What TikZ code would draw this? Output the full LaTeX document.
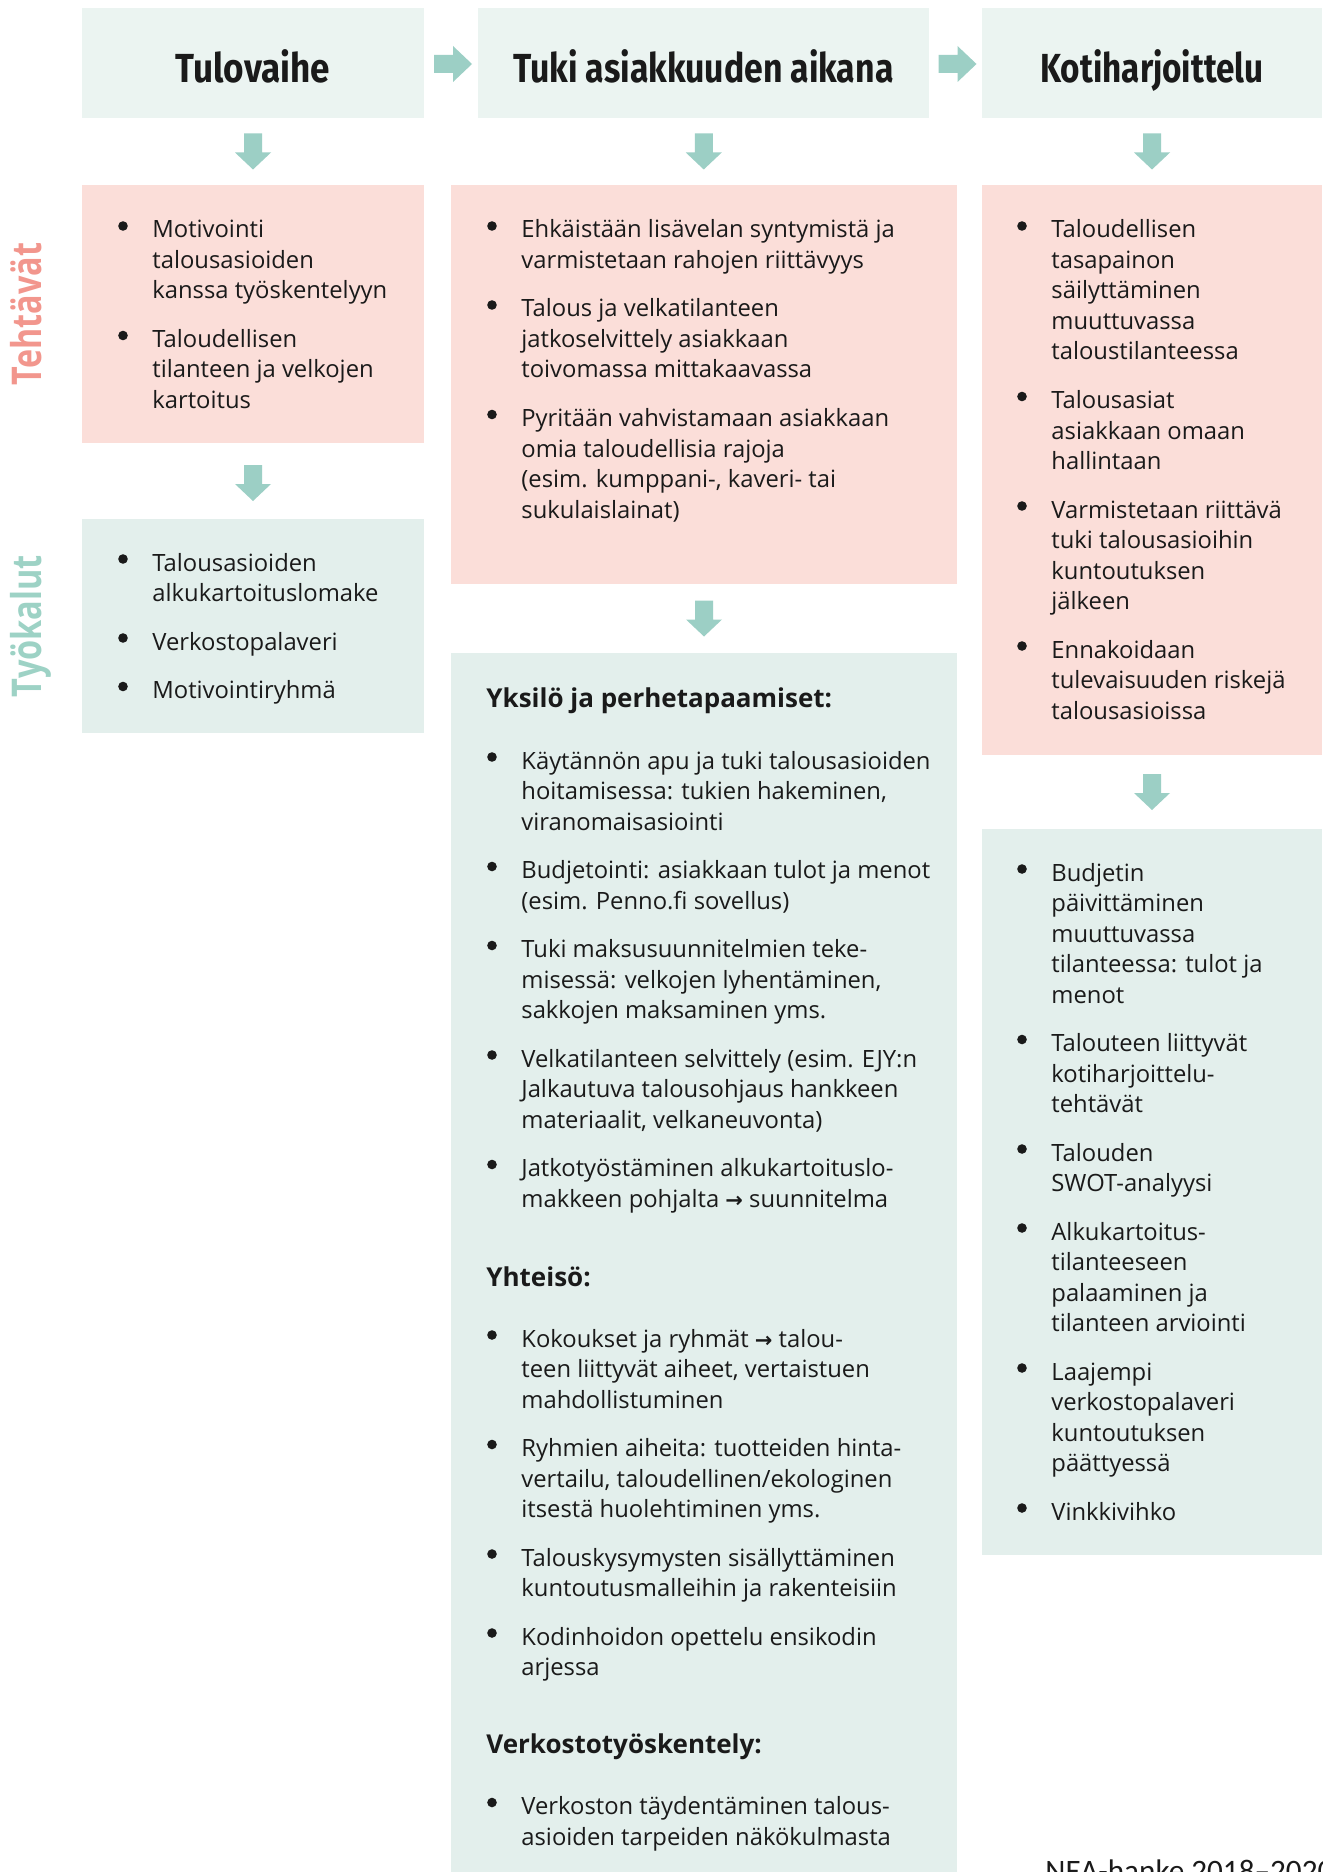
\documentclass[tikz,border=0pt]{standalone}
\usepackage{fontspec}
\usepackage{graphicx}
\setmainfont{Open Sans}
\newfontfamily\headfont{Fira Sans}
\newfontfamily\notefont{Carlito}
\newfontfamily\arrowfont{DejaVu Sans}
\usetikzlibrary{calc}
\definecolor{hdrgreen}{RGB}{235,244,241}
\definecolor{boxgreen}{RGB}{227,239,236}
\definecolor{boxpink}{RGB}{251,222,217}
\definecolor{arrowc}{RGB}{156,207,197}
\definecolor{labpink}{RGB}{242,150,141}
\definecolor{labgreen}{RGB}{157,210,197}
\definecolor{txtcol}{RGB}{26,26,26}
\newcommand\itemfont{\fontsize{11.9pt}{15.25pt}\selectfont}
\newcommand\rar{{\arrowfont\bfseries\fontsize{10.5pt}{15.25pt}\selectfont →}}
\tikzset{
  boxbase/.style={inner sep=0pt, outer sep=0pt, anchor=north west},
  hdrbox/.style={boxbase, fill=hdrgreen},
  pinkbox/.style={boxbase, fill=boxpink},
  toolbox/.style={boxbase, fill=boxgreen},
  hdrtext/.style={anchor=base, inner sep=0pt, text=txtcol, font=\headfont\bfseries\fontsize{20.3pt}{24pt}\selectfont},
  itemtxt/.style={anchor=base west, inner sep=0pt, text=txtcol},
  subhead/.style={anchor=base west, inner sep=0pt, text=txtcol, font=\bfseries\fontsize{13pt}{16pt}\selectfont},
  sidelabel/.style={anchor=base, rotate=90, inner sep=0pt, font=\bfseries\fontsize{20.5pt}{24pt}\selectfont},
}
% item: name, bullet x, baseline y, lines
\newcommand\itm[4]{%
  \node[itemtxt] (#1) at (#2+29,#3) {\parbox[t]{330pt}{\itemfont #4}};
  \fill[txtcol] (#2,#3-12) circle[radius=2.4pt];}
\newcommand\downarr[1]{\fill[arrowc] (#1) ++(-9,-18) -- ++(18,0) -- ++(0,19) -- ++(9,0) -- ++(-18,17) -- ++(-18,-17) -- ++(9,0) -- cycle;}
\newcommand\rightarr[1]{\fill[arrowc] (#1) ++(-19,-9) -- ++(19,0) -- ++(0,-9) -- ++(19,18) -- ++(-19,18) -- ++(0,-9) -- ++(-19,0) -- cycle;}
\begin{document}
\begin{tikzpicture}[x=0.5pt,y=-0.5pt]
\useasboundingbox (0,0) rectangle (1322,1872);
\clip (0,0) rectangle (1322,1872);
\fill[white] (0,0) rectangle (1322,1872);

% header boxes
\node[hdrbox, minimum width=171pt, minimum height=55pt] (h1) at (82,8) {};
\node[hdrbox, minimum width=225.5pt, minimum height=55pt] (h2) at (478,8) {};
\node[hdrbox, minimum width=170pt, minimum height=55pt] (h3) at (982,8) {};
\node[hdrtext] (h1t) at (253,83) {\resizebox{77pt}{\height}{Tulovaihe}};
\node[hdrtext] (h2t) at (703.5,83) {\resizebox{190pt}{\height}{Tuki asiakkuuden aikana}};
\node[hdrtext] (h3t) at (1152,83) {\resizebox{111.5pt}{\height}{Kotiharjoittelu}};

% task boxes
\node[pinkbox, minimum width=171pt, minimum height=129pt] (p1) at (82,185) {};
\node[pinkbox, minimum width=253pt, minimum height=199.5pt] (p2) at (451,185) {};
\node[pinkbox, minimum width=170pt, minimum height=285pt] (p3) at (982,185) {};

% tool boxes
\node[toolbox, minimum width=171pt, minimum height=107pt] (g1) at (82,519) {};
\node[toolbox, minimum width=253pt, minimum height=620pt] (g2) at (451,653) {};
\node[toolbox, minimum width=170pt, minimum height=363pt] (g3) at (982,829) {};

% arrows
\coordinate (r1) at ($(h1.east)!0.5!(h2.west)+(2,1)$);
\coordinate (r2) at ($(h2.east)!0.5!(h3.west)+(2,1)$);
\rightarr{r1}
\rightarr{r2}
\coordinate (d1) at ($(h1.south)!0.5!(p1.north)$);
\coordinate (d2) at ($(h2.south)!0.5!(p2.north)$);
\coordinate (d3) at ($(h3.south)!0.5!(p3.north)$);
\coordinate (e1) at ($(p1.south)!0.5!(g1.north)+(0,2)$);
\coordinate (e2) at ($(p2.south)!0.5!(g2.north)$);
\coordinate (e3) at ($(p3.south)!0.5!(g3.north)$);
\downarr{d1}\downarr{d2}\downarr{d3}
\downarr{e1}\downarr{e2}\downarr{e3}

% side labels
\node[sidelabel, text=labpink] (lt) at (41,314) {\resizebox{71pt}{\height}{Tehtävät}};
\node[sidelabel, text=labgreen] (lw) at (41,626) {\resizebox{71pt}{\height}{Työkalut}};

% column 1
\itm{p1a}{123}{238}{Motivointi\\talousasioiden\\kanssa työskentelyyn}
\itm{p1b}{123}{347.5}{Taloudellisen\\tilanteen ja velkojen\\kartoitus}
\itm{g1a}{123}{571}{Talousasioiden\\alkukartoituslomake}
\itm{g1b}{123}{650}{Verkostopalaveri}
\itm{g1c}{123}{698.5}{Motivointiryhmä}

% column 2
\itm{p2a}{492}{238}{Ehkäistään lisävelan syntymistä ja\\varmistetaan rahojen riittävyys}
\itm{p2b}{492}{317}{Talous ja velkatilanteen\\jatkoselvittely asiakkaan\\toivomassa mittakaavassa}
\itm{p2c}{492}{426.5}{Pyritään vahvistamaan asiakkaan\\omia taloudellisia rajoja\\(esim. kumppani-, kaveri- tai\\sukulaislainat)}

\node[subhead] (s1) at (486,707) {Yksilö ja perhetapaamiset:};
\itm{g2a}{492}{769}{Käytännön apu ja tuki talousasioiden\\hoitamisessa: tukien hakeminen,\\viranomaisasiointi}
\itm{g2b}{492}{878.5}{Budjetointi: asiakkaan tulot ja menot\\(esim. Penno.fi sovellus)}
\itm{g2c}{492}{957.5}{Tuki maksusuunnitelmien teke-\\misessä: velkojen lyhentäminen,\\sakkojen maksaminen yms.}
\itm{g2d}{492}{1067}{Velkatilanteen selvittely (esim. EJY:n\\Jalkautuva talousohjaus hankkeen\\materiaalit, velkaneuvonta)}
\itm{g2e}{492}{1176.5}{Jatkotyöstäminen alkukartoituslo-\\makkeen pohjalta \rar{} suunnitelma}
\node[subhead] (s2) at (486,1286) {Yhteisö:};
\itm{g2f}{492}{1347}{Kokoukset ja ryhmät \rar{} talou-\\teen liittyvät aiheet, vertaistuen\\mahdollistuminen}
\itm{g2g}{492}{1456.5}{Ryhmien aiheita: tuotteiden hinta-\\vertailu, taloudellinen/ekologinen\\itsestä huolehtiminen yms.}
\itm{g2h}{492}{1566}{Talouskysymysten sisällyttäminen\\kuntoutusmalleihin ja rakenteisiin}
\itm{g2i}{492}{1645}{Kodinhoidon opettelu ensikodin\\arjessa}
\node[subhead] (s3) at (486,1753) {Verkostotyöskentely:};
\itm{g2j}{492}{1814.5}{Verkoston täydentäminen talous-\\asioiden tarpeiden näkökulmasta}

% column 3
\itm{p3a}{1022}{238}{Taloudellisen\\tasapainon\\säilyttäminen\\muuttuvassa\\taloustilanteessa}
\itm{p3b}{1022}{408.5}{Talousasiat\\asiakkaan omaan\\hallintaan}
\itm{p3c}{1022}{518}{Varmistetaan riittävä\\tuki talousasioihin\\kuntoutuksen\\jälkeen}
\itm{p3d}{1022}{658}{Ennakoidaan\\tulevaisuuden riskejä\\talousasioissa}

\itm{g3a}{1022}{881}{Budjetin\\päivittäminen\\muuttuvassa\\tilanteessa: tulot ja\\menot}
\itm{g3b}{1022}{1051.5}{Talouteen liittyvät\\kotiharjoittelu-\\tehtävät}
\itm{g3c}{1022}{1161}{Talouden\\SWOT-analyysi}
\itm{g3d}{1022}{1240}{Alkukartoitus-\\tilanteeseen\\palaaminen ja\\tilanteen arviointi}
\itm{g3e}{1022}{1380}{Laajempi\\verkostopalaveri\\kuntoutuksen\\päättyessä}
\itm{g3f}{1022}{1520}{Vinkkivihko}

% footer note (cut off at the lower edge, as in the reference)
\node[anchor=base west, inner sep=0pt, text=txtcol, font=\notefont\fontsize{15.6pt}{18pt}\selectfont] (nea) at (1045,1881) {NEA-hanke 2018–2020};
\end{tikzpicture}
\end{document}
